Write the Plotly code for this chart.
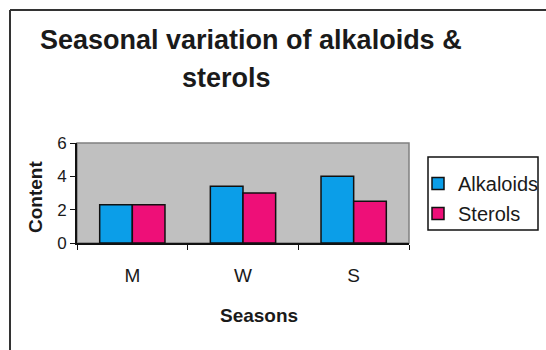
import plotly.graph_objects as go

seasons = ["M", "W", "S"]
alkaloids = [2.3, 3.4, 4.0]
sterols = [2.3, 3.0, 2.5]

L, R, T, B = 77, 409, 143, 243
W, H = R - L, B - T

def px(x):
    return (x - L) / W

def py(y):
    return (B - y) / H

fig = go.Figure()
fig.add_trace(go.Bar(x=seasons, y=alkaloids, name="Alkaloids", legendgroup="a",
                     marker=dict(color="#0b9ee8", line=dict(color="#111", width=1.5))))
fig.add_trace(go.Bar(x=seasons, y=sterols, name="Sterols", legendgroup="b",
                     marker=dict(color="#ee0f78", line=dict(color="#111", width=1.5))))

font = "Liberation Sans, Arial, sans-serif"
fig.update_layout(
    width=546, height=350,
    margin=dict(l=L, r=546 - R, t=T, b=350 - B, autoexpand=False),
    paper_bgcolor="white", plot_bgcolor="#c0c0c0",
    barmode="group", bargap=0.41, bargroupgap=0,
    font=dict(family=font, size=14, color="#222"),
    showlegend=True,
    legend=dict(x=px(418), y=py(164), xanchor="left", yanchor="top",
                borderwidth=0, bgcolor="rgba(0,0,0,0)",
                font=dict(size=20, color="#1a1a1a"), itemwidth=30,
                tracegroupgap=1),
    xaxis=dict(showline=True, linecolor="#111", linewidth=2, ticks="outside",
               tickson="boundaries", ticklen=5, tickcolor="#111",
               ticklabelstandoff=14, showgrid=False,
               tickfont=dict(size=19, color="#1a1a1a")),
    yaxis=dict(range=[0, 6], dtick=2, showline=True, linecolor="#111", linewidth=2,
               ticks="outside", ticklen=5, tickcolor="#111", showgrid=False,
               zeroline=False, tickfont=dict(size=17, color="#1a1a1a")),
    shapes=[
        dict(type="rect", xref="paper", yref="paper", x0=0, x1=1, y0=0, y1=1,
             line=dict(color="#808080", width=1.5), layer="below"),
        dict(type="rect", xref="paper", yref="paper", x0=px(428), x1=px(538),
             y0=py(230), y1=py(157), line=dict(color="#111", width=1.5)),
        dict(type="line", xref="paper", yref="paper", x0=px(10), x1=px(10), y0=py(10), y1=py(360),
             line=dict(color="#333", width=2)),
        dict(type="line", xref="paper", yref="paper", x0=px(10), x1=px(560), y0=py(10), y1=py(10),
             line=dict(color="#333", width=2)),
    ],
    annotations=[
        dict(text="<b>Seasonal variation of alkaloids &</b>", x=px(251), y=py(40),
             xanchor="center", yanchor="middle",
             xref="paper", yref="paper", showarrow=False, font=dict(size=27, color="#1a1a1a")),
        dict(text="<b>sterols</b>", x=px(226), y=py(78),
             xanchor="center", yanchor="middle",
             xref="paper", yref="paper", showarrow=False, font=dict(size=27, color="#1a1a1a")),
        dict(text="<b>Content</b>", x=px(35), y=py(197), textangle=-90,
             xanchor="center", yanchor="middle",
             xref="paper", yref="paper", showarrow=False, font=dict(size=19, color="#1a1a1a")),
        dict(text="<b>Seasons</b>", x=px(259), y=py(315),
             xanchor="center", yanchor="middle",
             xref="paper", yref="paper", showarrow=False, font=dict(size=19, color="#1a1a1a")),
    ],
)

fig.write_html("out.html", config={"displayModeBar": False},
               post_script="document.body.style.margin='0';document.body.style.padding='0';")
